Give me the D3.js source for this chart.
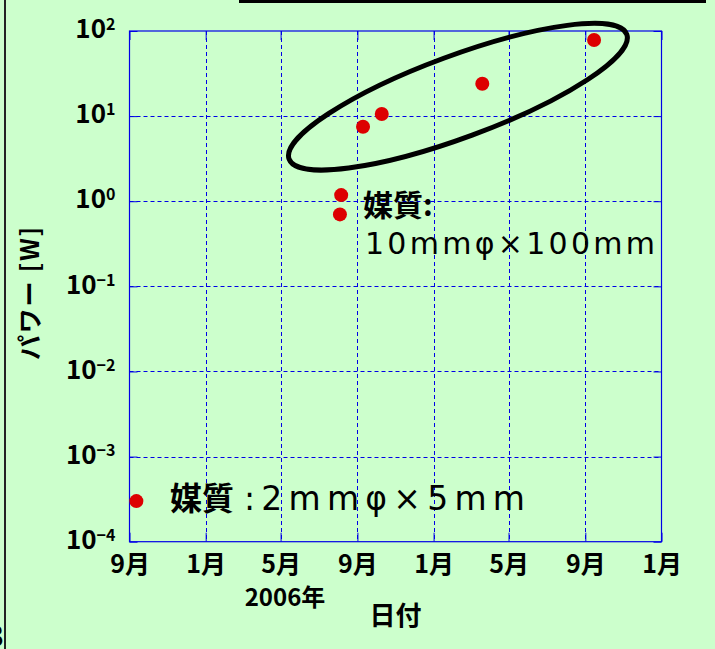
<!DOCTYPE html>
<html>
<head>
<meta charset="utf-8">
<script src="https://cdn.jsdelivr.net/npm/d3@7"></script>
<style>
  html, body { margin: 0; padding: 0; background: #ccffcc; }
  svg { display: block; }
</style>
</head>
<body>
<svg id="chart" width="715" height="649"></svg>
<script>
// Month ticks along the date axis and their labels
const monthTicks  = ["2005-09-01", "2006-01-01", "2006-05-01", "2006-09-01",
                     "2007-01-01", "2007-05-01", "2007-09-01", "2008-01-01"];
const monthLabels = ["9月", "1月", "5月", "9月", "1月", "5月", "9月", "1月"];

// Decades on the power axis and the exponents printed for them
const powerTicks     = [1e-4, 1e-3, 1e-2, 1e-1, 1, 10, 100];
const powerExponents = ["−4", "−3", "−2", "−1", "0", "1", "2"];

// Measured output power [W] by date
const measureDates = ["2005-09-12", "2006-08-04", "2006-08-06", "2006-09-10",
                      "2006-10-10", "2007-03-20", "2007-09-15"];
const measurePower = [3.0e-4, 0.70, 1.18, 7.5, 10.6, 24.0, 78.5];

// Ring drawn around the large-medium results
const ringCenterDate  = "2007-02-09";
const ringCenterPower = 16.9;

const W = 715, H = 649;
const plot = { left: 129.5, right: 661.5, top: 31, bottom: 541.7 };
const parse = d3.timeParse("%Y-%m-%d");

const x = d3.scaleTime()
  .domain([parse(monthTicks[0]), parse(monthTicks[monthTicks.length - 1])])
  .range([plot.left, plot.right]);
const y = d3.scaleLog()
  .domain([powerTicks[0], powerTicks[powerTicks.length - 1]])
  .range([plot.bottom, plot.top]);

const svg = d3.select("#chart");
const BLUE = "#0000e6";
const tickFont = '"Liberation Sans Narrow", "Noto Sans CJK JP", sans-serif';
const cjkFont = '"Noto Sans CJK JP", sans-serif';
const latinFont = '"DejaVu Sans", sans-serif';

svg.append("rect").attr("width", W).attr("height", H).attr("fill", "#ccffcc");

// Slide frame edges
svg.append("line").attr("x1", 5).attr("x2", 5).attr("y1", 0).attr("y2", H)
  .attr("stroke", "#222").attr("stroke-width", 2);
svg.append("rect").attr("x", 239).attr("y", -3).attr("width", 467).attr("height", 6)
  .attr("fill", "#000");
svg.append("text").attr("x", 4).attr("y", 647).attr("text-anchor", "end")
  .attr("font-family", tickFont).attr("font-weight", "bold").attr("font-size", 30)
  .text("3");

// Dashed grid
const grid = svg.append("g")
  .attr("stroke", BLUE).attr("stroke-width", 1).attr("stroke-dasharray", "4,3");
grid.selectAll("line.v").data(monthTicks.slice(1, -1)).join("line")
  .attr("class", "v")
  .attr("x1", d => Math.round(x(parse(d))) + 0.5).attr("x2", d => Math.round(x(parse(d))) + 0.5)
  .attr("y1", plot.top).attr("y2", plot.bottom);
grid.selectAll("line.h").data(powerTicks.slice(1, -1)).join("line")
  .attr("class", "h")
  .attr("y1", d => Math.round(y(d)) + 0.5).attr("y2", d => Math.round(y(d)) + 0.5)
  .attr("x1", plot.left).attr("x2", plot.right);

// Axes with inward ticks
const dateTickVals = monthTicks.map(parse);
const gx = svg.append("g").attr("transform", `translate(0,${plot.bottom})`)
  .call(d3.axisBottom(x).tickValues(dateTickVals).tickSize(-9).tickPadding(14)
    .tickFormat((d, i) => monthLabels[i]));
svg.append("g").attr("transform", `translate(0,${plot.top})`)
  .call(d3.axisTop(x).tickValues(dateTickVals).tickSize(-9).tickFormat(""));
const gy = svg.append("g").attr("transform", `translate(${plot.left},0)`)
  .call(d3.axisLeft(y).tickValues(powerTicks).tickSize(-8).tickPadding(14)
    .tickFormat(() => "10"));
svg.append("g").attr("transform", `translate(${plot.right},0)`)
  .call(d3.axisRight(y).tickValues(powerTicks).tickSize(-8).tickFormat(""));

svg.selectAll(".domain").remove();
svg.selectAll(".tick line").attr("stroke", BLUE);
svg.selectAll(".tick text").attr("fill", "#000")
  .attr("font-family", tickFont).attr("font-weight", "bold");
gx.selectAll(".tick text").attr("font-size", 25);
gy.selectAll(".tick text").attr("font-size", 26).attr("dy", "0.26em")
  .each(function(d, i) {
    d3.select(this).append("tspan")
      .attr("dy", "-0.5em").attr("font-size", 16).text(powerExponents[i]);
  });

// Plot frame
svg.append("rect")
  .attr("x", plot.left).attr("y", plot.top)
  .attr("width", plot.right - plot.left).attr("height", plot.bottom - plot.top)
  .attr("fill", "none").attr("stroke", BLUE).attr("stroke-width", 1.2);

// Axis titles
svg.append("text").attr("x", 285).attr("y", 606).attr("text-anchor", "middle")
  .attr("font-family", tickFont).attr("font-weight", "bold").attr("font-size", 24)
  .text("2006年");
svg.append("text").attr("x", (plot.left + plot.right) / 2).attr("y", 625)
  .attr("text-anchor", "middle")
  .attr("font-family", cjkFont).attr("font-weight", "bold").attr("font-size", 26)
  .text("日付");
svg.append("text")
  .attr("transform", "translate(39,293.5) rotate(-90)")
  .attr("text-anchor", "middle")
  .attr("font-family", cjkFont).attr("font-weight", "bold").attr("font-size", 25)
  .attr("textLength", 133).attr("lengthAdjust", "spacing")
  .text("パワー [W]");

// Ring around the 10mm medium results
svg.append("ellipse")
  .attr("rx", 180).attr("ry", 41)
  .attr("transform", `translate(${x(parse(ringCenterDate))},${y(ringCenterPower)}) rotate(-20.3)`)
  .attr("fill", "none").attr("stroke", "#000").attr("stroke-width", 5);

// Measurement points
svg.append("g").selectAll("circle")
  .data(measureDates.map((d, i) => ({ date: parse(d), power: measurePower[i] })))
  .join("circle")
  .attr("cx", d => x(d.date)).attr("cy", d => y(d.power))
  .attr("r", 7).attr("fill", "#dd0000");

// Medium size annotations
svg.append("text").attr("x", 363).attr("y", 216)
  .attr("font-family", cjkFont).attr("font-weight", "bold").attr("font-size", 30)
  .text("媒質:");
svg.append("text").attr("x", 365).attr("y", 254)
  .attr("font-family", latinFont).attr("font-size", 30)
  .attr("textLength", 290).attr("lengthAdjust", "spacing")
  .text("10mmφ×100mm");
svg.append("text").attr("x", 170).attr("y", 509.5)
  .attr("font-family", cjkFont).attr("font-weight", "bold").attr("font-size", 32)
  .text("媒質");
svg.append("text").attr("x", 244).attr("y", 510)
  .attr("font-family", latinFont).attr("font-size", 33)
  .attr("textLength", 281).attr("lengthAdjust", "spacing")
  .text(":2mmφ×5mm");
</script>
</body>
</html>
